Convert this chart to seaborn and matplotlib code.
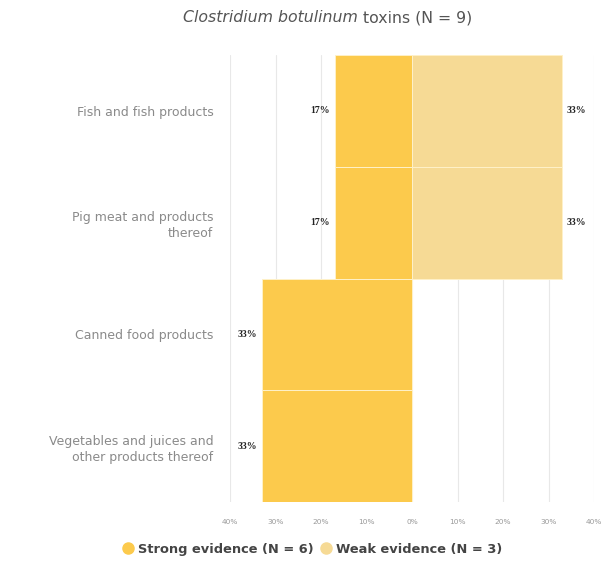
import pandas as pd
import matplotlib.pyplot as plt
import seaborn as sns
from matplotlib.lines import Line2D

# Data
CATEGORIES = [
    "Fish and fish products",
    "Pig meat and products\nthereof",
    "Canned food products",
    "Vegetables and juices and\nother products thereof",
]
STRONG = [17, 17, 33, 33]   # drawn to the left of zero
WEAK = [33, 33, 0, 0]       # drawn to the right of zero
SERIES = ["Strong evidence (N = 6)", "Weak evidence (N = 3)"]
XTICKS = [-40, -30, -20, -10, 0, 10, 20, 30, 40]

STRONG_COLOR = "#FCCA4C"
WEAK_COLOR = "#F6DA95"


def build_frame():
    rows = []
    for cat, s, w in zip(CATEGORIES, STRONG, WEAK):
        rows.append({"category": cat, "value": -s, "series": SERIES[0]})
        rows.append({"category": cat, "value": w, "series": SERIES[1]})
    return pd.DataFrame(rows)


def main():
    sns.set_style("white")
    plt.rcParams["font.family"] = ["DejaVu Sans"]

    df = build_frame()
    fig = plt.figure(figsize=(6.04, 5.65), dpi=100)
    ax = fig.add_axes([230 / 604, 0.1115, 364 / 604, 0.791])

    sns.barplot(
        data=df, y="category", x="value", hue="series", orient="h",
        order=CATEGORIES, hue_order=SERIES, dodge=False, width=1.0,
        palette=[STRONG_COLOR, WEAK_COLOR], saturation=1,
        edgecolor="#FFF1C8", linewidth=0.7, legend=False, ax=ax, zorder=3,
    )

    ax.set_xlim(-40, 40)
    ax.set_xticks(XTICKS)
    ax.set_xticklabels([f"{abs(t)}%" for t in XTICKS])
    ax.set_xlabel("")
    ax.set_ylabel("")
    ax.grid(axis="x", color="#E8E8E8", linewidth=0.8, zorder=0)
    ax.set_axisbelow(True)
    sns.despine(ax=ax, left=True, bottom=True)
    ax.tick_params(axis="x", length=0, pad=12, labelsize=5.3, labelcolor="#999999")
    ax.tick_params(axis="y", length=0, pad=12, labelsize=9, labelcolor="#8A8A8A")
    for lab in ax.get_yticklabels():
        lab.set_horizontalalignment("right")
        lab.set_linespacing(1.3)

    # value labels
    for i, (s, w) in enumerate(zip(STRONG, WEAK)):
        if s:
            ax.text(-s - 1.0, i, f"{s}%", ha="right", va="center", fontsize=7,
                    fontweight="bold", family="Liberation Serif", color="#222222")
        if w:
            ax.text(w + 1.0, i, f"{w}%", ha="left", va="center", fontsize=7,
                    fontweight="bold", family="Liberation Serif", color="#222222")

    # title with italic species name
    fig.text(358 / 604, 1 - 18 / 565, "Clostridium botulinum", ha="right", va="center",
             fontsize=11.3, style="italic", color="#555555")
    fig.text(358 / 604, 1 - 18 / 565, " toxins (N = 9)", ha="left", va="center",
             fontsize=11.3, color="#555555")

    handles = [
        Line2D([], [], marker="o", linestyle="", markersize=8,
               markerfacecolor=STRONG_COLOR, markeredgecolor=STRONG_COLOR),
        Line2D([], [], marker="o", linestyle="", markersize=8,
               markerfacecolor=WEAK_COLOR, markeredgecolor=WEAK_COLOR),
    ]
    leg = fig.legend(handles, SERIES, loc="center", ncol=2,
                     bbox_to_anchor=(312 / 604, 1 - 549 / 565), frameon=False,
                     handletextpad=0.3, columnspacing=0.4, handlelength=1.0,
                     prop={"size": 9.4, "weight": "bold"})
    for t in leg.get_texts():
        t.set_color("#444444")

    fig.savefig("out.png", dpi=100)


if __name__ == "__main__":
    main()
